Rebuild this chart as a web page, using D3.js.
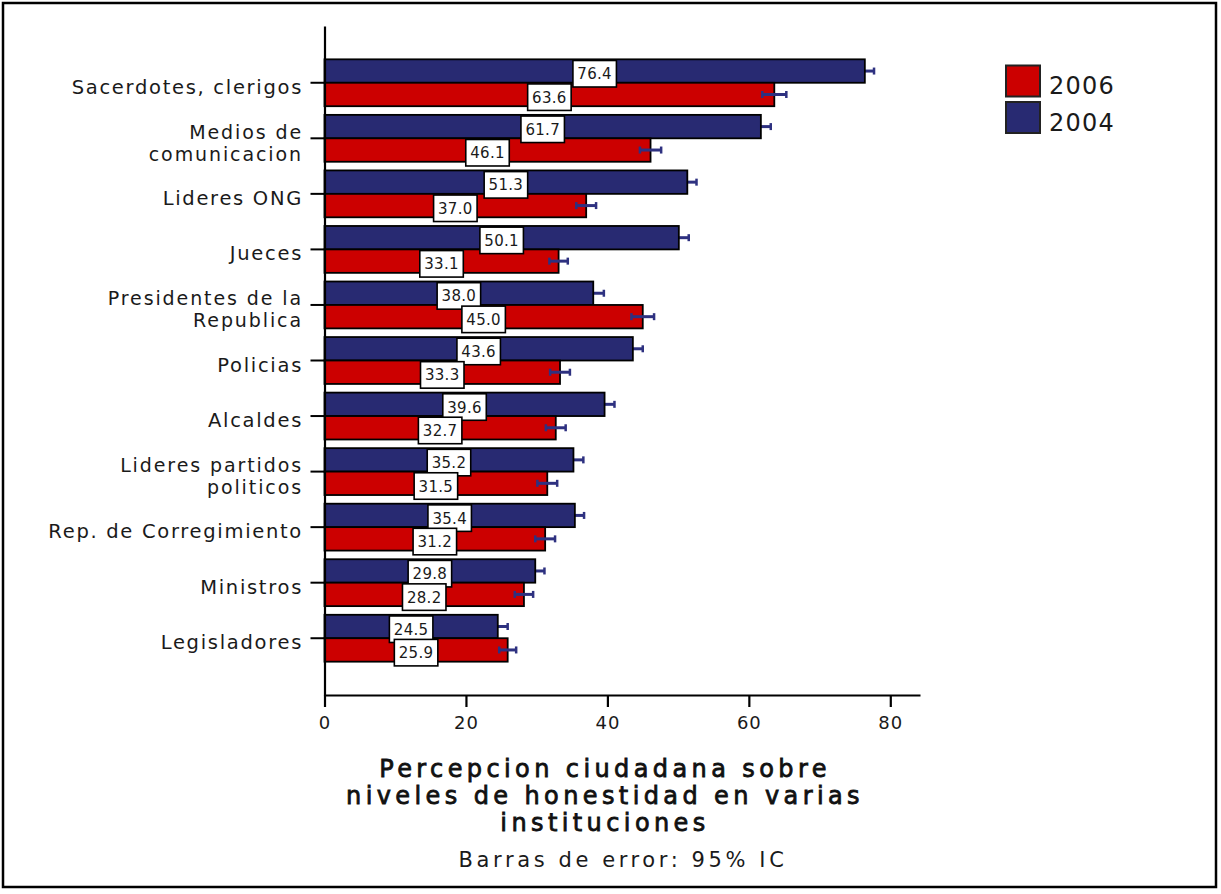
<!DOCTYPE html>
<html>
<head>
<meta charset="utf-8">
<script src="https://cdn.jsdelivr.net/npm/d3@7"></script>
<style>
  html, body { margin: 0; padding: 0; background: #fff; }
  svg text { font-family: "DejaVu Sans", sans-serif; fill: #1a1a1a; }
</style>
</head>
<body>
<svg id="chart" width="1221" height="894"></svg>
<script>
const categories = [
  "Sacerdotes, clerigos",
  "Medios de\ncomunicacion",
  "Lideres ONG",
  "Jueces",
  "Presidentes de la\nRepublica",
  "Policias",
  "Alcaldes",
  "Lideres partidos\npoliticos",
  "Rep. de Corregimiento",
  "Ministros",
  "Legisladores"
];
const series = ["2004", "2006"];
const values2004 = [76.4, 61.7, 51.3, 50.1, 38.0, 43.6, 39.6, 35.2, 35.4, 29.8, 24.5];
const values2006 = [63.6, 46.1, 37.0, 33.1, 45.0, 33.3, 32.7, 31.5, 31.2, 28.2, 25.9];
const err2004 = [1.3, 1.4, 1.3, 1.4, 1.5, 1.4, 1.4, 1.4, 1.3, 1.3, 1.4];
const err2006 = [1.7, 1.5, 1.4, 1.3, 1.6, 1.4, 1.4, 1.4, 1.4, 1.3, 1.2];
const xTicks = [0, 20, 40, 60, 80];
const legendItems = ["2006", "2004"];
const titleLines = ["Percepcion ciudadana sobre", "niveles de honestidad en varias", "instituciones"];
const subtitle = "Barras de error: 95% IC";

const colors = { "2004": "#282A72", "2006": "#CC0000" };
const errColor = "#2E3180";

const svg = d3.select("#chart");

// frame
svg.append("rect").attr("x", 3).attr("y", 3).attr("width", 1213).attr("height", 884)
  .attr("fill", "none").attr("stroke", "#000").attr("stroke-width", 2.5);

const x = d3.scaleLinear().domain([0, 84.2]).range([324.5, 920]);
const y = d3.scaleBand().domain(categories).range([26, 695]).paddingInner(0.156).paddingOuter(0.6);
const ySub = d3.scaleBand().domain(series).range([0, y.bandwidth()]);

const rows = categories.map((c, i) => ({
  cat: c,
  items: [
    { s: "2004", v: values2004[i], e: err2004[i] },
    { s: "2006", v: values2006[i], e: err2006[i] }
  ]
}));
const flat = rows.flatMap(r => r.items.map(it => Object.assign({ cat: r.cat }, it)));

function drawErr(g, data) {
  const eg = g.selectAll("g.err").data(data).join("g").attr("class", "err");
  eg.append("line")
    .attr("x1", d => x(d.v - d.e)).attr("x2", d => x(d.v + d.e))
    .attr("y1", d => y(d.cat) + ySub(d.s) + ySub.bandwidth() / 2)
    .attr("y2", d => y(d.cat) + ySub(d.s) + ySub.bandwidth() / 2)
    .attr("stroke", errColor).attr("stroke-width", 3);
  [-1, 1].forEach(sgn => {
    eg.append("line")
      .attr("x1", d => x(d.v + sgn * d.e)).attr("x2", d => x(d.v + sgn * d.e))
      .attr("y1", d => y(d.cat) + ySub(d.s) + ySub.bandwidth() / 2 - 3.5)
      .attr("y2", d => y(d.cat) + ySub(d.s) + ySub.bandwidth() / 2 + 3.5)
      .attr("stroke", errColor).attr("stroke-width", 2.5);
  });
}

// blue error bars beneath bars
drawErr(svg.append("g"), flat.filter(d => d.s === "2004"));

// bars
svg.append("g").selectAll("rect").data(flat).join("rect")
  .attr("x", x(0))
  .attr("y", d => y(d.cat) + ySub(d.s))
  .attr("width", d => x(d.v) - x(0))
  .attr("height", ySub.bandwidth())
  .attr("fill", d => colors[d.s])
  .attr("stroke", "#000").attr("stroke-width", 1.8);

// red error bars on top
drawErr(svg.append("g"), flat.filter(d => d.s === "2006"));

// axes
const xAxis = svg.append("g").attr("transform", "translate(0,695)")
  .call(d3.axisBottom(x).tickValues(xTicks).tickSize(12).tickSizeOuter(0).tickPadding(9));
xAxis.select(".domain").attr("stroke", "#000").attr("stroke-width", 2.2);
xAxis.selectAll(".tick line").attr("stroke", "#000").attr("stroke-width", 2.2);
xAxis.selectAll(".tick text").attr("font-size", 18).attr("letter-spacing", 1)
  .attr("font-family", "DejaVu Sans").attr("fill", "#1a1a1a");

const yAxis = svg.append("g").attr("transform", "translate(324.5,0)")
  .call(d3.axisLeft(y).tickSize(14).tickSizeOuter(0).tickFormat(""));
yAxis.select(".domain").attr("stroke", "#000").attr("stroke-width", 2.2);
yAxis.selectAll(".tick line").attr("stroke", "#000").attr("stroke-width", 2);

// category labels
const catG = svg.append("g");
categories.forEach(c => {
  const lines = c.split("\n");
  const cy = y(c) + y.bandwidth() / 2;
  if (lines.length === 1) {
    catG.append("text").attr("text-anchor", "end").attr("font-size", 19.5)
      .attr("letter-spacing", 1.7).attr("x", 303).attr("y", cy + 11).text(lines[0]);
  } else {
    catG.append("text").attr("text-anchor", "end").attr("font-size", 19)
      .attr("letter-spacing", 1.9).attr("x", 303).attr("y", cy + 0.5).text(lines[0]);
    catG.append("text").attr("text-anchor", "end").attr("font-size", 19)
      .attr("letter-spacing", 1.9).attr("x", 303).attr("y", cy + 22.5).text(lines[1]);
  }
});

// value labels
const labG = svg.append("g");
["2004", "2006"].forEach(s => {
  flat.filter(d => d.s === s).forEach(d => {
    const cx = (x(0) + x(d.v)) / 2;
    const cy = y(d.cat) + ySub(d.s) + ySub.bandwidth() / 2 + 2.7;
    const g = labG.append("g");
    const rect = g.append("rect");
    g.append("text").attr("x", cx).attr("y", cy + 5.5)
      .attr("text-anchor", "middle").attr("font-size", 15).attr("letter-spacing", 0.3)
      .text(d.v.toFixed(1));
    const w = 43.5, h = 26.5;
    rect.attr("x", cx - w / 2).attr("y", cy - h / 2).attr("width", w).attr("height", h)
      .attr("fill", "#fff").attr("stroke", "#000").attr("stroke-width", 1.6);
  });
});

// legend
const leg = svg.append("g");
legendItems.forEach((s, i) => {
  leg.append("rect").attr("x", 1006).attr("y", 65.5 + i * 36.5).attr("width", 34).attr("height", 31)
    .attr("fill", colors[s]).attr("stroke", "#222").attr("stroke-width", 2);
  leg.append("text").attr("x", 1049).attr("y", 94 + i * 37).attr("font-size", 24)
    .attr("letter-spacing", 1.2).text(s);
});

// title
titleLines.forEach((l, i) => {
  svg.append("text").attr("text-anchor", "middle").attr("font-size", 24)
    .attr("letter-spacing", 4.4).attr("stroke", "#111").attr("stroke-width", 0.8)
    .style("fill", "#111")
    .attr("x", 605).attr("y", 777 + i * 27).text(l);
});
svg.append("text").attr("x", 623).attr("y", 867).attr("text-anchor", "middle")
  .attr("font-size", 21).attr("letter-spacing", 3.6).text(subtitle);
</script>
</body>
</html>
